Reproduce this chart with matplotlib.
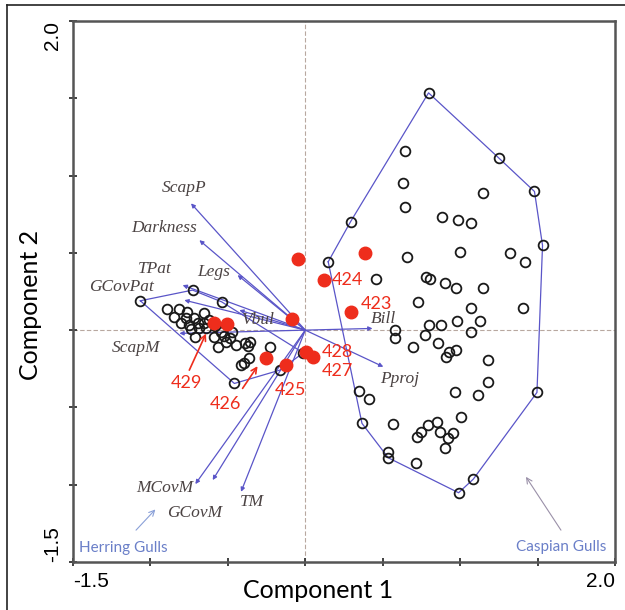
import matplotlib
matplotlib.use("Agg")
import matplotlib.pyplot as plt
import numpy as np

# Caspian gulls (component 1, component 2)
casp_x = [0.796, 0.644, 1.248, 0.631, 1.149, 1.480, 0.644, 0.292, 0.884, 0.983,
          1.072, 1.532, 0.999, 0.658, 1.325, 1.422, 0.148, 0.456, 0.779, 0.805,
          0.904, 0.973, 1.149, 0.730, 1.070, 1.409, 0.979, 1.128, 0.801, 0.876,
          1.070, 0.581, 0.581, 0.775, 0.697, 0.854, 0.973, 0.925, 0.908, 1.179,
          1.179, 1.117, 0.966, 1.496, 0.344, 0.409, 1.005, 0.366, 0.564, 0.852,
          0.790, 0.747, 0.719, 0.870, 0.955, 0.919, 0.904, 0.536, 0.536, 0.715,
          1.085, 0.990]
casp_y = [1.535, 1.158, 1.115, 0.953, 0.884, 0.897, 0.796, 0.701, 0.731, 0.712,
          0.694, 0.548, 0.506, 0.472, 0.496, 0.442, 0.442, 0.334, 0.345, 0.334,
          0.306, 0.270, 0.270, 0.183, 0.140, 0.144, 0.060, 0.060, 0.032, 0.032,
          -0.011, 0.000, -0.050, -0.032, -0.108, -0.086, -0.129, -0.140, -0.173, -0.194,
          -0.338, -0.419, -0.403, -0.403, -0.395, -0.446, -0.561, -0.603, -0.608, -0.593,
          -0.614, -0.662, -0.690, -0.658, -0.668, -0.697, -0.765, -0.787, -0.826, -0.858,
          -0.964, -1.052]

# Herring gulls
herr_x = [-1.065, -0.728, -0.540, -0.895, -0.813, -0.850, -0.770, -0.717, -0.652, -0.802,
          -0.749, -0.695, -0.657, -0.738, -0.684, -0.641, -0.712, -0.592, -0.544, -0.523,
          -0.484, -0.476, -0.562, -0.512, -0.447, -0.389, -0.355, -0.368, -0.228, -0.362,
          -0.415, -0.394, -0.458, -0.165, -0.013, -0.620, -0.762, -0.581]
herr_y = [0.190, 0.259, 0.183, 0.136, 0.136, 0.086, 0.080, 0.076, 0.108, 0.043,
          0.032, 0.043, 0.043, 0.006, 0.011, 0.015, -0.043, -0.043, -0.011, -0.037,
          -0.054, -0.011, -0.108, -0.080, -0.097, -0.086, -0.080, -0.103, -0.108, -0.183,
          -0.226, -0.215, -0.345, -0.259, -0.147, 0.065, 0.116, 0.026]

# unknown birds (red)
test_x = [-0.587, -0.505, -0.254, -0.125, -0.086, 0.005, 0.047, -0.045, 0.123, 0.297, 0.387]
test_y = [0.043, 0.037, -0.183, -0.226, 0.069, -0.140, -0.177, 0.459, 0.323, 0.116, 0.498]

# variable loadings
var_names = ["ScapP", "Darkness", "Legs", "TPat", "GCovPat", "Vbul", "ScapM",
             "Bill", "Pproj", "MCovM", "GCovM", "TM"]
var_x = [-0.738, -0.684, -0.437, -0.792, -0.781, -0.426, -0.813, 0.434, 0.504, -0.710, -0.598, -0.415]
var_y = [0.820, 0.582, 0.356, 0.291, 0.194, 0.129, -0.021, 0.011, -0.237, -0.996, -0.970, -1.046]
var_lab_x = [-0.781, -0.910, -0.594, -0.975, -1.190, -0.310, -1.091, 0.504, 0.607, -0.910, -0.717, -0.342]
var_lab_y = [0.918, 0.660, 0.375, 0.395, 0.278, 0.065, -0.116, 0.072, -0.317, -1.022, -1.184, -1.113]

# labels for red birds
bird_ids = ["424", "423", "428", "427", "425", "426", "429"]
bird_lab_x = [0.271, 0.458, 0.207, 0.207, -0.097, -0.516, -0.768]
bird_lab_y = [0.323, 0.172, -0.142, -0.265, -0.388, -0.479, -0.343]


def hull(px, py):
    pts = sorted(set(zip(px, py)))

    def cross(o, a, b):
        return (a[0] - o[0]) * (b[1] - o[1]) - (a[1] - o[1]) * (b[0] - o[0])

    lower, upper = [], []
    for p in pts:
        while len(lower) >= 2 and cross(lower[-2], lower[-1], p) <= 0:
            lower.pop()
        lower.append(p)
    for p in reversed(pts):
        while len(upper) >= 2 and cross(upper[-2], upper[-1], p) <= 0:
            upper.pop()
        upper.append(p)
    h = lower[:-1] + upper[:-1]
    h.append(h[0])
    return np.array(h)


blue = "#5a55c8"
red = "#ee2d1c"
grey_txt = "#4b4343"

fig = plt.figure(figsize=(6.25, 6.1), dpi=100)
ax = fig.add_axes([0.1168, 0.0787, 0.8672, 0.8869])

ax.axhline(0, color="#b8a8a0", lw=0.8, ls=(0, (4, 2)), zorder=1)
ax.axvline(0, color="#b8a8a0", lw=0.8, ls=(0, (4, 2)), zorder=1)

for hx, hy in [(casp_x, casp_y), (herr_x, herr_y)]:
    h = hull(hx, hy)
    ax.plot(h[:, 0], h[:, 1], color=blue, lw=0.9, zorder=2)

for name, vx, vy, lx, ly in zip(var_names, var_x, var_y, var_lab_x, var_lab_y):
    ax.annotate("", xy=(vx, vy), xytext=(0, 0),
                arrowprops=dict(arrowstyle="-|>", color=blue, lw=0.9,
                                mutation_scale=6, shrinkA=0, shrinkB=0), zorder=3)
    ax.text(lx, ly, name, family="Liberation Serif", style="italic", fontsize=12.5,
            color=grey_txt, ha="center", va="center", zorder=6)

ax.plot(casp_x, casp_y, "o", mfc="none", mec="#1a1a1a", ms=7, mew=1.3, zorder=4)
ax.plot(herr_x, herr_y, "o", mfc="none", mec="#1a1a1a", ms=7, mew=1.3, zorder=4)
ax.plot(test_x, test_y, "o", color=red, ms=9, zorder=5)

for t, lx, ly in zip(bird_ids, bird_lab_x, bird_lab_y):
    ax.text(lx, ly, t, family="Lato", fontsize=13, color=red, ha="center", va="center", zorder=6)

# small arrows for 429 and 426
for (x0, y0), (x1, y1) in [((-0.749, -0.259), (-0.641, -0.022)), ((-0.405, -0.377), (-0.308, -0.233))]:
    ax.annotate("", xy=(x1, y1), xytext=(x0, y0),
                arrowprops=dict(arrowstyle="->", color=red, lw=1.2, shrinkA=0, shrinkB=0), zorder=6)

# group labels
ax.text(-1.459, -1.410, "Herring Gulls", family="Lato", fontsize=11, color="#6a7fc8", ha="left", va="center")
ax.annotate("", xy=(-0.968, -1.160), xytext=(-1.093, -1.294),
            arrowprops=dict(arrowstyle="->", color="#8aa0d8", lw=0.8, shrinkA=0, shrinkB=0))
ax.text(1.943, -1.404, "Caspian Gulls", family="Lato", fontsize=11, color="#6a7fc8", ha="right", va="center")
ax.annotate("", xy=(1.425, -0.949), xytext=(1.651, -1.294),
            arrowprops=dict(arrowstyle="->", color="#9a90a8", lw=0.8, shrinkA=0, shrinkB=0))

ax.set_xlim(-1.5, 2.0)
ax.set_ylim(-1.5, 2.0)
ticks = np.arange(-1.5, 2.01, 0.5)
ax.set_xticks(ticks)
ax.set_yticks(ticks)
ax.set_xticklabels(["-1.5"] + [""] * 6 + ["2.0"], fontsize=15, family="Liberation Sans")
ax.set_yticklabels(["-1.5"] + [""] * 6 + ["2.0"], fontsize=15, family="Liberation Sans",
                   rotation=90)
xl = ax.get_xticklabels()
xl[0].set_ha("left")
xl[-1].set_ha("right")
yl = ax.get_yticklabels()
yl[0].set_va("bottom")
yl[-1].set_va("top")
for lab in yl:
    lab.set_ha("center")
ax.tick_params(direction="inout", length=6, width=1.3, color="#333333", pad=4)
ax.tick_params(axis="y", pad=12)

for s in ax.spines.values():
    s.set_color("#555555")
    s.set_linewidth(1.8)

# axis titles placed as in the original (slightly off-centre)
fig.text(318 / 625, 1 - 591 / 610, "Component 1", family="Lato", fontsize=18,
         ha="center", va="center")
fig.text(31 / 625, 1 - 305 / 610, "Component 2", family="Lato", fontsize=18,
         ha="center", va="center", rotation=90)

# figure frame lines (left and top)
fig.add_artist(plt.Line2D([7 / 625, 7 / 625], [0, 1 - 5 / 610], transform=fig.transFigure, color="#222222", lw=1.2))
fig.add_artist(plt.Line2D([7 / 625, 1], [1 - 5 / 610, 1 - 5 / 610], transform=fig.transFigure, color="#222222", lw=1.2))

fig.savefig("out.png", dpi=100)
